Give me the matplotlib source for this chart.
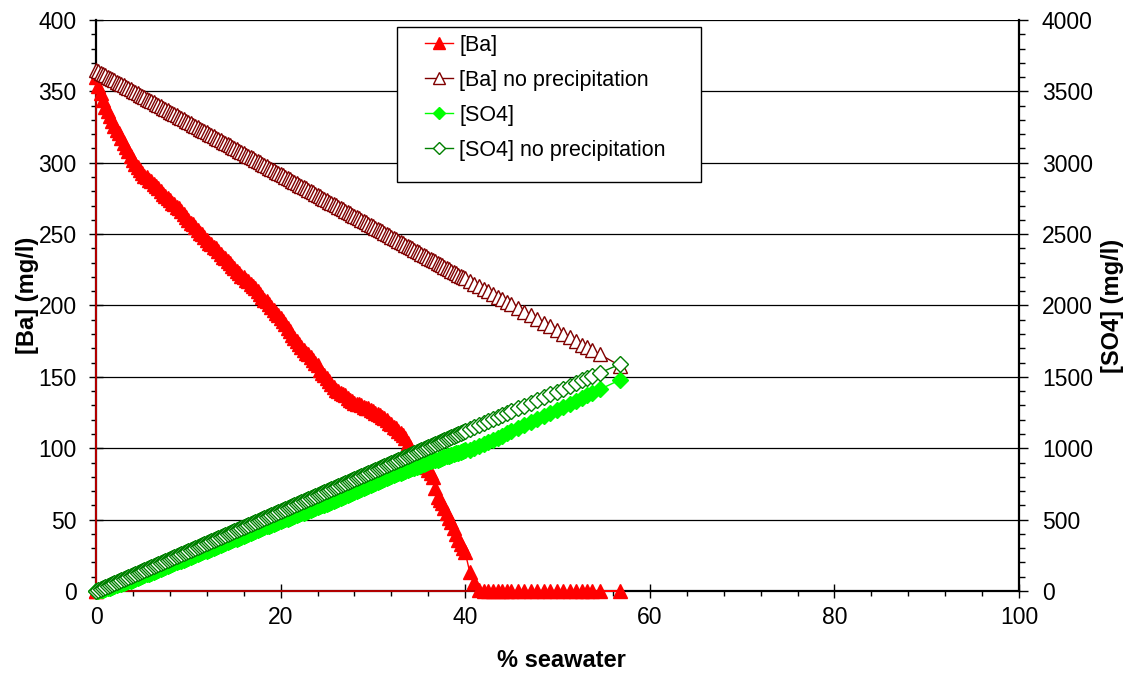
import matplotlib.pyplot as plt
from matplotlib.ticker import MultipleLocator
from matplotlib.patches import Rectangle

# % seawater in the mix (shared by all four series)
PCT_SW = [
    0.0, 0.25, 0.5, 0.75, 1.0, 1.25, 1.5, 1.75,
    2.0, 2.25, 2.5, 2.75, 3.0, 3.25, 3.5, 3.75,
    4.0, 4.25, 4.5, 4.75, 5.0, 5.25, 5.5, 5.75,
    6.0, 6.25, 6.5, 6.75, 7.0, 7.25, 7.5, 7.75,
    8.0, 8.25, 8.5, 8.75, 9.0, 9.25, 9.5, 9.75,
    10.0, 10.25, 10.5, 10.75, 11.0, 11.25, 11.5, 11.75,
    12.0, 12.25, 12.5, 12.75, 13.0, 13.25, 13.5, 13.75,
    14.0, 14.25, 14.5, 14.75, 15.0, 15.25, 15.5, 15.75,
    16.0, 16.25, 16.5, 16.75, 17.0, 17.25, 17.5, 17.75,
    18.0, 18.25, 18.5, 18.75, 19.0, 19.25, 19.5, 19.75,
    20.0, 20.25, 20.5, 20.75, 21.0, 21.25, 21.5, 21.75,
    22.0, 22.25, 22.5, 22.75, 23.0, 23.25, 23.5, 23.75,
    24.0, 24.25, 24.5, 24.75, 25.0, 25.25, 25.5, 25.75,
    26.0, 26.25, 26.5, 26.75, 27.0, 27.25, 27.5, 27.75,
    28.0, 28.25, 28.5, 28.75, 29.0, 29.25, 29.5, 29.75,
    30.0, 30.25, 30.5, 30.75, 31.0, 31.25, 31.5, 31.75,
    32.0, 32.25, 32.5, 32.75, 33.0, 33.25, 33.5, 33.75,
    34.0, 34.25, 34.5, 34.75, 35.0, 35.25, 35.5, 35.75,
    36.0, 36.25, 36.5, 36.75, 37.0, 37.25, 37.5, 37.75,
    38.0, 38.25, 38.5, 38.75, 39.0, 39.25, 39.5, 39.75,
    40.0,
    40.5, 41.0, 41.5, 42.0, 42.5, 43.0, 43.5, 44.0, 44.5, 45.0,
    45.7, 46.4, 47.1, 47.8, 48.5, 49.2, 49.9, 50.6, 51.3, 52.0,
    52.7, 53.2, 53.7, 54.6, 56.8,
]

# [Ba] with barite precipitation (mg/l)
BA = [
    360, 354, 349, 344, 339, 336, 333, 329,
    326, 323, 321, 317, 314, 311, 308, 305,
    302, 299, 297, 295, 293, 291, 290, 288,
    287, 285, 284, 282, 280, 278, 277, 275,
    274, 272, 271, 269, 268, 266, 264, 262,
    260, 258, 257, 255, 253, 251, 250, 248,
    246, 244, 243, 241, 240, 238, 236, 234,
    233, 231, 230, 228, 226, 224, 223, 221,
    220, 218, 217, 215, 214, 212, 210, 208,
    206, 204, 203, 201, 199, 197, 195, 193,
    191, 189, 187, 184, 182, 179, 177, 175,
    173, 171, 169, 167, 166, 164, 162, 160,
    158, 155, 153, 151, 149, 147, 145, 143,
    141, 140, 139, 138, 137, 135, 134, 133,
    132, 131, 131, 130, 129, 128, 128, 127,
    126, 125, 124, 123, 122, 121, 120, 118,
    117, 115, 114, 112, 111, 109, 107, 104,
    101, 97, 94, 92, 91, 90, 89, 87,
    85, 83, 80, 72, 66, 64, 62, 58,
    55, 51, 48, 44, 40, 36, 33, 30,
    27,
    13, 6, 1, 0, 0, 0, 0, 0, 0, 0,
    0, 0, 0, 0, 0, 0, 0, 0, 0, 0,
    0, 0, 0, 0, 0,
]
# extra (0, 0) rows at both ends of the [Ba] column
BA_END_PCT = [0.0]
BA_END = [0.0]

# [Ba] without precipitation (mg/l)
BA_NOPREC = [
    365.0, 364.1, 363.2, 362.3, 361.4, 360.4, 359.5, 358.6,
    357.7, 356.8, 355.9, 355.0, 354.1, 353.1, 352.2, 351.3,
    350.4, 349.5, 348.6, 347.7, 346.8, 345.8, 344.9, 344.0,
    343.1, 342.2, 341.3, 340.4, 339.5, 338.5, 337.6, 336.7,
    335.8, 334.9, 334.0, 333.1, 332.2, 331.2, 330.3, 329.4,
    328.5, 327.6, 326.7, 325.8, 324.9, 323.9, 323.0, 322.1,
    321.2, 320.3, 319.4, 318.5, 317.6, 316.6, 315.7, 314.8,
    313.9, 313.0, 312.1, 311.2, 310.3, 309.3, 308.4, 307.5,
    306.6, 305.7, 304.8, 303.9, 303.0, 302.0, 301.1, 300.2,
    299.3, 298.4, 297.5, 296.6, 295.7, 294.7, 293.8, 292.9,
    292.0, 291.1, 290.2, 289.3, 288.4, 287.4, 286.5, 285.6,
    284.7, 283.8, 282.9, 282.0, 281.1, 280.1, 279.2, 278.3,
    277.4, 276.5, 275.6, 274.7, 273.8, 272.8, 271.9, 271.0,
    270.1, 269.2, 268.3, 267.4, 266.5, 265.5, 264.6, 263.7,
    262.8, 261.9, 261.0, 260.1, 259.2, 258.2, 257.3, 256.4,
    255.5, 254.6, 253.7, 252.8, 251.9, 250.9, 250.0, 249.1,
    248.2, 247.3, 246.4, 245.5, 244.6, 243.6, 242.7, 241.8,
    240.9, 240.0, 239.1, 238.2, 237.3, 236.3, 235.4, 234.5,
    233.6, 232.7, 231.8, 230.9, 230.0, 229.0, 228.1, 227.2,
    226.3, 225.4, 224.5, 223.6, 222.7, 221.7, 220.8, 219.9,
    219.0,
    217.2, 215.4, 213.5, 211.7, 209.9, 208.1, 206.2, 204.4, 202.6, 200.8,
    198.2, 195.6, 193.1, 190.5, 188.0, 185.4, 182.9, 180.3, 177.8, 175.2,
    172.6, 170.8, 169.0, 165.7, 157.7,
]

# [SO4] with barite precipitation (mg/l)
SO4 = [
    0, 0, 4, 8, 12, 18, 23, 28,
    34, 39, 46, 50, 56, 61, 67, 73,
    78, 84, 90, 96, 102, 109, 116, 122,
    129, 135, 142, 148, 154, 161, 168, 174,
    181, 187, 194, 200, 207, 213, 220, 226,
    232, 238, 245, 251, 258, 264, 271, 277,
    283, 290, 297, 303, 310, 316, 322, 328,
    335, 342, 349, 355, 361, 367, 374, 380,
    387, 394, 401, 407, 414, 420, 426, 432,
    439, 445, 452, 458, 464, 471, 477, 483,
    489, 496, 502, 507, 514, 519, 525, 532,
    538, 544, 550, 557, 563, 570, 576, 582,
    588, 594, 600, 606, 613, 619, 625, 631,
    638, 645, 651, 658, 665, 672, 679, 685,
    692, 699, 707, 714, 721, 728, 735, 742,
    749, 756, 763, 770, 777, 784, 791, 797,
    804, 810, 817, 824, 830, 837, 843, 849,
    854, 859, 864, 871, 878, 885, 891, 898,
    904, 910, 916, 918, 921, 928, 934, 939,
    944, 949, 954, 959, 964, 969, 974, 980,
    986,
    991, 1001, 1013, 1028, 1043, 1058, 1074, 1089, 1104, 1119,
    1141, 1162, 1184, 1205, 1226, 1248, 1269, 1291, 1312, 1333,
    1355, 1370, 1386, 1413, 1480,
]

# [SO4] without precipitation (mg/l)
SO4_NOPREC = [
    0, 7, 14, 21, 28, 35, 42, 49,
    56, 63, 70, 77, 84, 91, 98, 105,
    112, 119, 126, 133, 140, 147, 154, 161,
    168, 175, 182, 189, 196, 203, 210, 217,
    224, 231, 238, 245, 252, 259, 266, 273,
    280, 287, 294, 301, 308, 315, 322, 329,
    336, 343, 350, 357, 364, 371, 378, 385,
    392, 399, 406, 413, 420, 427, 434, 441,
    448, 455, 462, 469, 476, 483, 490, 497,
    504, 511, 518, 525, 532, 539, 546, 553,
    560, 567, 574, 581, 588, 595, 602, 609,
    616, 623, 630, 637, 644, 651, 658, 665,
    672, 679, 686, 693, 700, 707, 714, 721,
    728, 735, 742, 749, 756, 763, 770, 777,
    784, 791, 798, 805, 812, 819, 826, 833,
    840, 847, 854, 861, 868, 875, 882, 889,
    896, 903, 910, 917, 924, 931, 938, 945,
    952, 959, 966, 973, 980, 987, 994, 1001,
    1008, 1015, 1022, 1029, 1036, 1043, 1050, 1057,
    1064, 1071, 1078, 1085, 1092, 1099, 1106, 1113,
    1120,
    1134, 1148, 1162, 1176, 1190, 1204, 1218, 1232, 1246, 1260,
    1280, 1299, 1319, 1338, 1358, 1378, 1397, 1417, 1436, 1456,
    1476, 1490, 1504, 1529, 1590,
]

LABELS = ["[Ba]", "[Ba] no precipitation", "[SO4]", "[SO4] no precipitation"]

plt.rcParams["font.family"] = ["Liberation Sans", "DejaVu Sans"]

fig = plt.figure(figsize=(11.27, 6.77), dpi=100)
ax = fig.add_axes([0.0852, 0.1270, 0.8190, 0.8435])
ax2 = ax.twinx()

TRI = 10.5   # triangle marker size
DIA = 8.0    # diamond marker size
ba_x = BA_END_PCT + PCT_SW + BA_END_PCT
ba_y = BA_END + BA + BA_END
h1, = ax.plot(ba_x, ba_y, color="#FF0000", lw=1, marker="^", ms=TRI,
              mfc="#FF0000", mec="#FF0000", mew=1, clip_on=False, zorder=3)
h2, = ax.plot(PCT_SW, BA_NOPREC, color="#800000", lw=1, marker="^", ms=TRI,
              mfc="white", mec="#800000", mew=1, clip_on=False, zorder=4)
h3, = ax2.plot(PCT_SW, SO4, color="#00FF00", lw=1, marker="D", ms=DIA,
               mfc="#00FF00", mec="#00FF00", mew=1, clip_on=False, zorder=3)
h4, = ax2.plot(PCT_SW, SO4_NOPREC, color="#008000", lw=1, marker="D",
               ms=DIA, mfc="white", mec="#008000", mew=1,
               clip_on=False, zorder=4)

# axes ranges and ticks
ax.set_xlim(0, 100)
ax.set_ylim(0, 400)
ax2.set_ylim(0, 4000)
ax.xaxis.set_major_locator(MultipleLocator(20))
ax.xaxis.set_minor_locator(MultipleLocator(4))
ax.yaxis.set_major_locator(MultipleLocator(50))
ax.yaxis.set_minor_locator(MultipleLocator(10))
ax2.yaxis.set_major_locator(MultipleLocator(500))
ax2.yaxis.set_minor_locator(MultipleLocator(100))

ax.grid(axis="y", which="major", color="black", lw=0.9)
ax.set_axisbelow(True)

ax.tick_params(axis="x", which="major", direction="inout", length=10,
               width=1, labelsize=16.5, pad=6)
ax.tick_params(axis="x", which="minor", direction="out", length=3.5, width=1)
ax.tick_params(axis="y", which="major", direction="inout", length=10,
               width=1, labelsize=16.5, pad=9)
ax.tick_params(axis="y", which="minor", direction="out", length=3.5, width=1)
ax2.tick_params(axis="y", which="major", direction="out", length=6.5,
                width=1, labelsize=16.5, pad=10)
ax2.tick_params(axis="y", which="minor", direction="out", length=4, width=1)

for side in ("top", "right"):
    ax.spines[side].set_visible(False)
for side in ("top", "left", "bottom"):
    ax2.spines[side].set_visible(False)
for sp in (ax.spines["left"], ax.spines["bottom"], ax2.spines["right"]):
    sp.set_linewidth(1.6)

ax.set_xlabel("% seawater", fontsize=17, fontweight="bold")
ax.set_ylabel("[Ba] (mg/l)", fontsize=17, fontweight="bold")
ax2.set_ylabel("[SO4] (mg/l)", fontsize=17, fontweight="bold")
ax.xaxis.set_label_coords(0.504, -0.102)
ax.yaxis.set_label_coords(-0.062, 0.517)
ax2.yaxis.set_label_coords(1.089, 0.5)

# legend box drawn by hand so the padding matches the original
ax2.add_patch(Rectangle((0.3261, 0.7163), 0.3294, 0.2714,
                        transform=ax2.transAxes, facecolor="white",
                        edgecolor="black", lw=1, zorder=10, clip_on=False))
leg = ax2.legend([h1, h2, h3, h4], LABELS, loc="upper left",
                 bbox_to_anchor=(0.3564, 0.974), frameon=False, borderpad=0,
                 fontsize=15.5, handlelength=1.3, handletextpad=0.3,
                 labelspacing=0.65, borderaxespad=0, markerscale=0.8)
leg.set_zorder(11)

fig.savefig("out.png", dpi=100)
